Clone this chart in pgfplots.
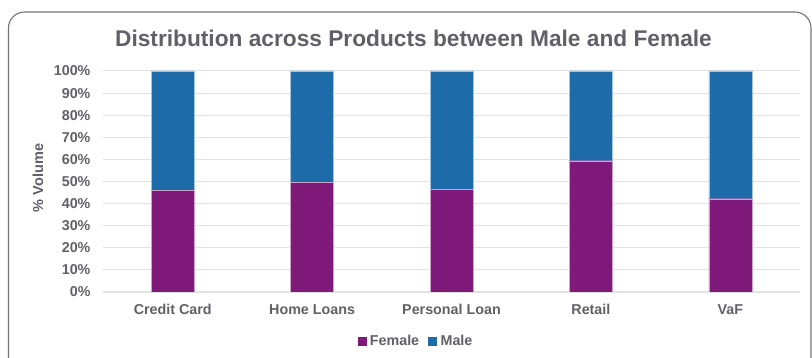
\documentclass[border=0pt]{standalone}
\usepackage{pgfplots}
\pgfplotsset{compat=1.18}
\usepackage{fontspec}
\setmainfont{Liberation Sans}
\definecolor{fem}{RGB}{127,26,122}
\definecolor{mal}{RGB}{30,107,170}
\definecolor{txt}{RGB}{96,96,104}
\definecolor{grd}{RGB}{226,226,226}
\begin{document}
\begin{tikzpicture}[x=1pt,y=1pt]
\path[use as bounding box] (0,0) rectangle (812,358);
\begin{scope}
\clip (0,0) rectangle (812,358);
\draw[color=black!55, line width=1.1pt, rounded corners=16pt] (8.5,-20) rectangle (811,346);
\end{scope}
\node[font=\fontsize{22.7}{26}\selectfont\bfseries, text=txt] at (413.5,320) {Distribution across Products between Male and Female};
\node[font=\fontsize{14.5}{16}\selectfont\bfseries, text=txt, rotate=90] at (38,180) {\% Volume};
\begin{axis}[
  at={(103pt,66pt)}, anchor=south west,
  scale only axis, width=697pt, height=221pt,
  xmin=-0.5, xmax=4.5, ymin=0, ymax=1,
  ybar stacked, bar width=43pt,
  xtick={0,1,2,3,4},
  xticklabels={Credit Card,Home Loans,Personal Loan,Retail,VaF},
  ytick={0,0.1,0.2,0.3,0.4,0.5,0.6,0.7,0.8,0.9,1},
  yticklabels={0\%,10\%,20\%,30\%,40\%,50\%,60\%,70\%,80\%,90\%,100\%},
  axis line style={draw=none},
  major tick length=0pt,
  ymajorgrids, grid style={grd, line width=1pt},
  extra y ticks={0}, extra y tick labels={},
  extra y tick style={grid style={grd,line width=1.2pt}},
  tick label style={font=\fontsize{14.3}{16}\selectfont\bfseries, text=txt},
  yticklabel style={xshift=-9pt},
  xticklabel style={anchor=base, yshift=-23pt},
  legend style={at={(0.449,-0.222)}, anchor=center, draw=none, fill=none,
    legend columns=2, font=\fontsize{14.3}{16}\selectfont\bfseries, text=txt,
    /tikz/every odd column/.append style={column sep=2pt},
    /tikz/every even column/.append style={column sep=7pt}},
  legend cell align=left,
]
\addplot[fill=fem, draw=white!60!fem, line width=0.4pt,
  legend image code/.code={\fill[fem] (0pt,-4.2pt) rectangle (8pt,4.3pt);}]
  coordinates {(0,0.462) (1,0.495) (2,0.465) (3,0.594) (4,0.422)};
\addplot[fill=mal, draw=white!60!mal, line width=0.4pt,
  legend image code/.code={\fill[mal] (0pt,-4.2pt) rectangle (8pt,4.3pt);}]
  coordinates {(0,0.538) (1,0.505) (2,0.535) (3,0.406) (4,0.578)};
\legend{Female,Male}
\end{axis}
\end{tikzpicture}
\end{document}
